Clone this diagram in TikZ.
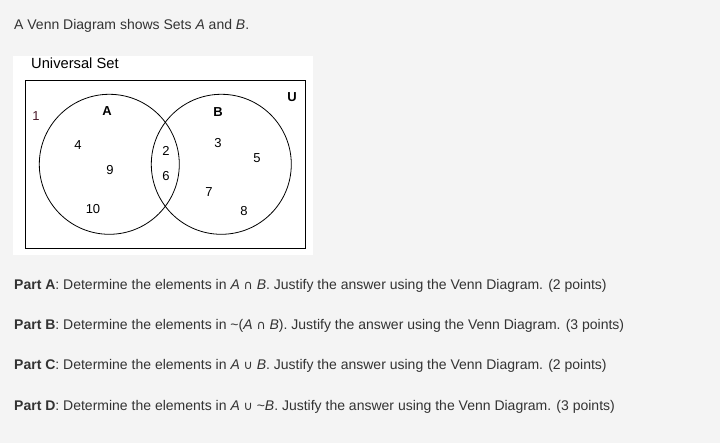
\documentclass[tikz,border=0pt]{standalone}
\usepackage{fontspec}
\setmainfont{Liberation Sans}
\newfontfamily\symfont{DejaVu Sans}
\usetikzlibrary{calc}
\definecolor{pagegray}{HTML}{F4F4F4}
\definecolor{textgray}{HTML}{333333}
\definecolor{outsidecol}{HTML}{4A1A2A}
\tikzstyle{setcircle} = [circle, draw, thick, minimum size=140pt, inner sep=0pt]
\tikzstyle{elem} = [font=\fontsize{13}{15}\selectfont, inner sep=0pt]
\tikzstyle{setname} = [font=\fontsize{13}{15}\selectfont\bfseries, inner sep=0pt]
\tikzstyle{para} = [anchor=base west, inner sep=0pt, text=textgray, font=\fontsize{14}{17}\selectfont]
\newcommand{\capsym}{{\symfont\fontsize{12.5}{15}\selectfont\char"2229}}
\newcommand{\cupsym}{{\symfont\fontsize{12.5}{15}\selectfont\char"222A}}
\begin{document}
\begin{tikzpicture}[x=1pt, y=-1pt]
    \fill [pagegray] (0,0) rectangle (720,443);
    \useasboundingbox (0,0) rectangle (720,443);
    \node [para] (title) at (14,30) {A Venn Diagram shows Sets \textit{A} and \textit{B}.};
    % white panel with the diagram
    \fill [white] (13,56) rectangle (313,255);
    \node [anchor=base west, inner sep=0pt, font=\fontsize{14.7}{17}\selectfont] (uniset) at (31,69) {Universal Set};
    \node [draw, thick, minimum width=280pt, minimum height=168pt, inner sep=0pt] (universe) at (165,164) {};
    \node [setcircle] (circA) at (109.3,164.3) {};
    \node [setcircle] (circB) at (221.3,164.3) {};
    \node [setname] (labA) at (107,111) {A};
    \node [setname] (labB) at (218,112) {B};
    \node [setname] (labU) at (292,97) {U};
    \node [elem, text=outsidecol] (e1) at (36,116) {1};
    \node [elem] (e4) at (78,145) {4};
    \node [elem] (e9) at (110,170) {9};
    \node [elem] (e10) at (93,209) {10};
    \node [elem] (e2) at (166,151) {2};
    \node [elem] (e6) at (166,176) {6};
    \node [elem] (e3) at (218,143) {3};
    \node [elem] (e5) at (257,158) {5};
    \node [elem] (e7) at (209,192) {7};
    \node [elem] (e8) at (244,211) {8};
    % questions
    \node [para] (partA) at (14,290) {\textbf{Part A}: Determine the elements in \textit{A} \capsym\ \textit{B}. Justify the answer using the Venn Diagram. (2 points)};
    \node [para] (partB) at (14,330) {\textbf{Part B}: Determine the elements in \textasciitilde(\textit{A} \capsym\ \textit{B}). Justify the answer using the Venn Diagram. (3 points)};
    \node [para] (partC) at (14,370) {\textbf{Part C}: Determine the elements in \textit{A} \cupsym\ \textit{B}. Justify the answer using the Venn Diagram. (2 points)};
    \node [para] (partD) at (14,410) {\textbf{Part D}: Determine the elements in \textit{A} \cupsym\ \textasciitilde\textit{B}. Justify the answer using the Venn Diagram. (3 points)};
\end{tikzpicture}
\end{document}
